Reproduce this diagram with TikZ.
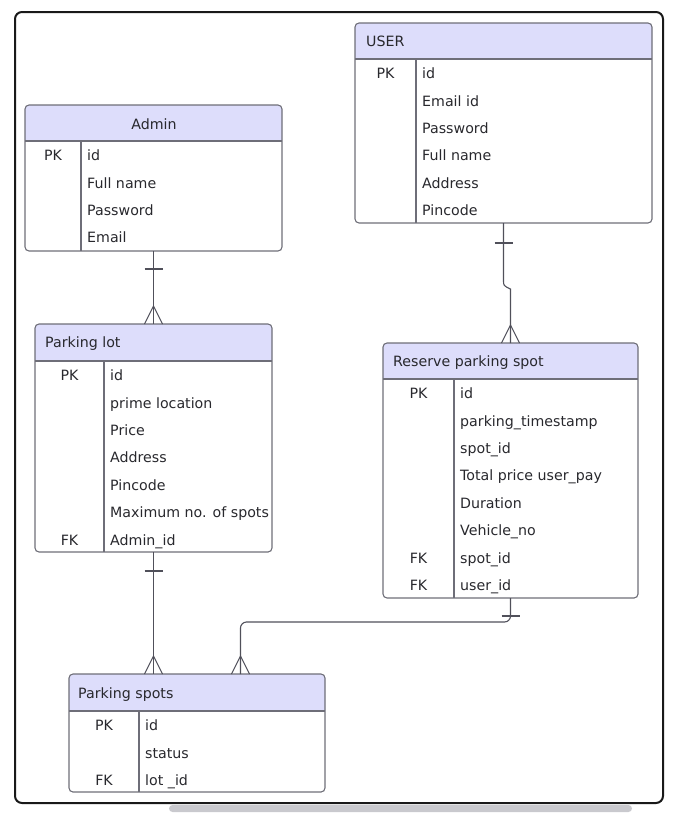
\documentclass[tikz,border=0pt]{standalone}
\usepackage{fontspec}
\setmainfont{DejaVu Sans}
\definecolor{headfill}{RGB}{221,221,251}
\definecolor{tblline}{RGB}{110,110,120}
\definecolor{connline}{RGB}{80,80,90}
\definecolor{txt}{RGB}{40,40,45}
\definecolor{scrollgray}{RGB}{201,201,206}

% one entity table: #1 name, #2 left, #3 top, #4 right, #5 header bottom,
% #6 bottom, #7 key/field divider, #8 rows as key/field pairs
\newcommand\ertable[8]{%
  \fill[headfill] (#2,#5) [rounded corners=4pt]-- (#2,#3) -- (#4,#3) [sharp corners]-- (#4,#5) -- cycle;
  \node[tblbox, anchor=north west, minimum width={#4-#2}, minimum height={#6-#3}] (#1) at (#2,#3) {};
  \draw[tblrule] (#2,#5) -- (#4,#5);
  \draw[tblrule] (#7,#5) -- (#7,#6);
  \foreach \k/\f [count=\i] in {#8} {
    \node[keytxt] (#1-k\i) at ({(#2+#7)/2}, {#5+14.5+(\i-1)*27.4+5.2}) {\k};
    \node[fieldtxt] (#1-f\i) at ({#7+6}, {#5+14.5+(\i-1)*27.4+5.2}) {\f};
  }%
}
% crow's foot (many) ending on a table top edge
\newcommand\crowsfoot[1]{\draw[conn] ([xshift=-9pt]#1) -- ([yshift=18pt]#1) -- ([xshift=9pt]#1);}
% single bar (one) across a connector
\newcommand\onebar[2]{\draw[conn] ([xshift=-9pt,yshift=#2]#1) -- ([xshift=9pt,yshift=#2]#1);}

\begin{document}
\begin{tikzpicture}[x=1pt,y=-1pt,
  font=\fontsize{14.2}{17}\selectfont,
  tblbox/.style={draw=tblline, line width=1.1pt, rounded corners=4pt, inner sep=0pt, outer sep=0pt},
  tblrule/.style={draw=tblline, line width=1.1pt},
  keytxt/.style={anchor=base, inner sep=0pt, text=txt},
  fieldtxt/.style={anchor=base west, inner sep=0pt, text=txt},
  titletxt/.style={inner sep=0pt, text=txt},
  conn/.style={draw=connline, line width=1.1pt},
  frame/.style={draw=black!90, line width=2pt, rounded corners=7pt}]

\useasboundingbox (0,0) rectangle (675,814);
\draw[frame] (15,12) rectangle (663,803);
\fill[scrollgray, rounded corners=3.5pt] (169,805) rectangle (632,812);

% entities
\ertable{admin}{25}{105}{282}{141}{251}{81}{PK/id, /Full name, /Password, /Email}
\node[titletxt, anchor=base] (admin-title) at (154,129) {Admin};

\ertable{user}{355}{23}{652}{59}{223}{416}{PK/id, /Email id, /Password, /Full name, /Address, /Pincode}
\node[titletxt, anchor=base west] (user-title) at (366,46) {USER};

\ertable{lot}{35}{324}{272}{361}{552}{104}{PK/id, /prime location, /Price, /Address, /Pincode, /Maximum no. of spots, FK/Admin\_id}
\node[titletxt, anchor=base west] (lot-title) at (45,347) {Parking lot};

\ertable{reserve}{383}{343}{638}{379}{598}{454}{PK/id, /parking\_timestamp, /spot\_id, /Total price user\_pay, /Duration, /Vehicle\_no, FK/spot\_id, FK/user\_id}
\node[titletxt, anchor=base west] (reserve-title) at (393,366) {Reserve parking spot};

\ertable{spots}{69}{674}{325}{711}{792}{139}{PK/id, /status, FK/lot \_id}
\node[titletxt, anchor=base west] (spots-title) at (78,698) {Parking spots};

% attachment points on the Parking spots top edge
\coordinate (spots-a) at (lot.south |- spots.north);
\coordinate (spots-b) at ([xshift=171.5pt]spots.north west);

% Admin 1 -- * Parking lot
\draw[conn] (admin.south) -- (lot.north);
\onebar{admin.south}{-18pt}
\crowsfoot{lot.north}

% USER 1 -- * Reserve parking spot
\draw[conn] (user.south) -- ++(0,58) .. controls ++(0,4) and ++(-7,-3) .. ([yshift=54pt]reserve.north) -- (reserve.north);
\onebar{user.south}{-20pt}
\crowsfoot{reserve.north}

% Parking lot 1 -- * Parking spots
\draw[conn] (lot.south) -- (spots-a);
\onebar{lot.south}{-19pt}
\crowsfoot{spots-a}

% Reserve parking spot 1 -- * Parking spots
\draw[conn, rounded corners=6pt] (reserve.south) -- ([yshift=-24pt]reserve.south) -| (spots-b);
\onebar{reserve.south}{-18pt}
\crowsfoot{spots-b}
\end{tikzpicture}
\end{document}
